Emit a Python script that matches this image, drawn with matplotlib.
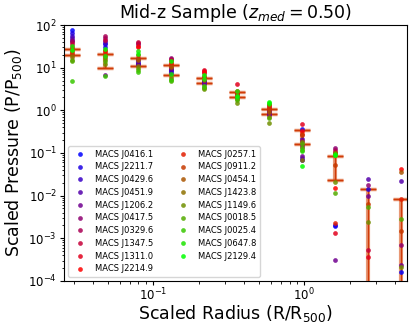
import numpy as np
import matplotlib
matplotlib.use("Agg")
import matplotlib.pyplot as plt

nan = np.nan

# scaled radius of each bin (R/R500)
radius = [0.029, 0.048, 0.079, 0.131, 0.216, 0.357, 0.589, 0.97, 1.6, 2.64, 4.36]

clusters = ["MACS J0416.1", "MACS J2211.7", "MACS J0429.6", "MACS J0451.9", "MACS J1206.2",
            "MACS J0417.5", "MACS J0329.6", "MACS J1347.5", "MACS J1311.0", "MACS J2214.9",
            "MACS J0257.1", "MACS J0911.2", "MACS J0454.1", "MACS J1423.8", "MACS J1149.6",
            "MACS J0018.5", "MACS J0025.4", "MACS J0647.8", "MACS J2129.4"]

# scaled pressure P/P500, one row per cluster, one column per radius bin
pressure = [
    [75, 35, 12, 9.0, 4.5, 2.2, 0.90, 0.068, 0.0019, nan, 0.000163],
    [65, 30, 14, 8.5, 4.8, 2.1, 0.85, 0.37, 0.0020, 0.0141, nan],
    [55, 38, 13, 7.5, 5.0, 2.3, 0.95, 0.075, nan, nan, nan],
    [50, 42, 16, 10, 4.2, 2.0, 0.82, 0.21, nan, 0.0243, 0.0226],
    [45, 6.8, 12.5, 9.5, 4.4, 2.4, 0.78, 0.085, 0.000317, 0.0098, 0.000233],
    [42, 50, 35, 17, 6.0, 2.5, 0.88, 0.15, 0.134, 0.018, 0.00068],
    [40, 55, 38, 16, 7.5, 2.6, 1.0, 0.19, 0.12, nan, nan],
    [35, 45, 40, 15, 8.5, 2.7, 1.2, 0.14, 0.104, 0.00052, nan],
    [30, 26, 33, 14, 9.0, 4.1, 1.35, 0.47, 0.00136, 0.00036, nan],
    [22, 24, 30, 13, 8.0, 2.8, 1.3, 0.32, 0.0152, nan, 0.0423],
    [28, 22, 20, 12, 6.5, 2.5, 1.15, 0.28, 0.00225, nan, 0.0082],
    [24, 20, 17, 11, 5.8, 2.4, 1.05, 0.26, 0.052, 0.0063, 0.00148],
    [20, 18, 15, 10.5, 5.2, 2.2, 0.92, 0.12, 0.101, nan, 0.036],
    [18, 16, 11, 6.0, 3.5, 1.8, 0.70, 0.07, 0.098, nan, nan],
    [15, 12, 10, 5.5, 3.1, 1.5, 0.50, 0.18, 0.0205, 0.00241, 0.000212],
    [14, 14, 9.0, 4.8, 3.3, 1.7, 0.65, 0.16, 0.0114, 0.0053, 0.0028],
    [5.0, 6.5, 8.0, 5.2, 3.8, 1.9, 1.4, 0.13, 0.095, nan, nan],
    [32, 19, 24, 7.0, 5.5, 2.9, 1.5, 0.11, 0.088, nan, nan],
    [26, 28, 21, 14.5, 6.8, 2.2, 1.6, 0.049, 0.088, nan, nan],
]

# spread of the sample in each bin (lower bound <= 0 runs off the log axis)
err_hi = [26.9, 21.2, 17.1, 11.3, 5.6, 2.67, 1.07, 0.343, 0.083, 0.0142, 0.0082]
err_lo = [19.8, 10.0, 10.7, 6.8, 4.3, 2.0, 0.80, 0.164, 0.023, -0.01, -0.01]

fig = plt.figure(figsize=(4.15, 3.29), dpi=100)
ax = fig.add_axes([0.154, 0.146, 0.827, 0.778])

cols = plt.get_cmap("brg")(np.linspace(0, 1, len(clusters)))
for name, row, c in zip(clusters, pressure, cols):
    ax.plot(radius, row, "o", ms=3.4, color=c, alpha=0.85, mec="none", label=name, zorder=3)

hi = np.array(err_hi); lo = np.array(err_lo)
mid = (hi + lo) / 2
yerr = [mid - lo, hi - mid]
ax.errorbar(radius, mid, yerr=yerr, fmt="none", ecolor="#d95319", alpha=0.6,
            elinewidth=3, capsize=5.5, capthick=2.5, zorder=1)
ax.errorbar(radius, mid, yerr=yerr, fmt="none", ecolor="#cf3a08",
            elinewidth=1, capsize=5.5, capthick=1, zorder=2)

ax.set_xscale("log"); ax.set_yscale("log")
ax.set_xlim(0.0257, 4.8)
ax.set_ylim(1e-4, 1e2)
ax.tick_params(labelsize=8.5, length=3, pad=2)
ax.tick_params(which="minor", length=1.8)
ax.tick_params(axis="x", pad=1.2)
ax.set_xlabel("Scaled Radius (R/R$_{500}$)", fontsize=12.5, labelpad=0)
ax.set_ylabel("Scaled Pressure (P/P$_{500}$)", fontsize=12.5, labelpad=3)
ax.set_title("Mid-z Sample ($z_{med} = 0.50$)", fontsize=12.5, pad=5)
ax.legend(loc="lower left", ncol=2, fontsize=6, numpoints=1, markerscale=1.0,
          framealpha=0.8, labelspacing=0.45, columnspacing=2.6)

fig.savefig("out.png", dpi=100)
